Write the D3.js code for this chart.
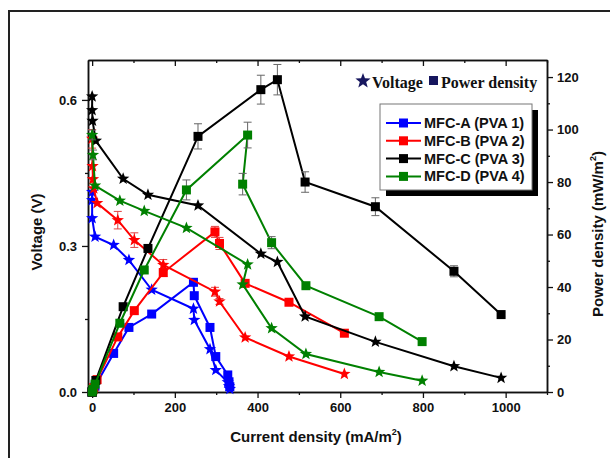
<!DOCTYPE html>
<html>
<head>
<meta charset="utf-8">
<script src="https://cdn.jsdelivr.net/npm/d3@7/dist/d3.min.js"></script>
<style>
  body { margin: 0; background: #fff; }
  svg text { font-family: Arial, "Liberation Sans", sans-serif; font-weight: bold; fill: #111; }
</style>
</head>
<body>
<div id="chart"></div>
<script>
// series names / colours
var names = ["MFC-A (PVA 1)", "MFC-B (PVA 2)", "MFC-C (PVA 3)", "MFC-D (PVA 4)"];
var colors = ["#0000ff", "#ff0000", "#000000", "#008000"];

// current density (mA/m2), voltage (V), power density (mW/m2)
var currentA = [0, 0, 0, 7, 52, 89, 144, 245, 247, 285, 299, 328, 331, 333];
var voltageA = [0.411, 0.394, 0.357, 0.319, 0.302, 0.271, 0.210, 0.171, 0.148, 0.088, 0.045, 0.020, 0.012, 0.006];
var powerA   = [0, 0, 0, 2.2, 14.7, 24.6, 29.7, 41.8, 36.7, 24.6, 13.5, 6.5, 3.9, 2.0];

var currentB = [0, 1, 2, 4, 12, 62, 102, 172, 297, 308, 370, 476, 610];
var voltageB = [0.52, 0.464, 0.437, 0.418, 0.388, 0.353, 0.312, 0.261, 0.206, 0.186, 0.112, 0.073, 0.037];
var powerB   = [0, 0.5, 0.9, 1.7, 4.7, 21, 31, 45.5, 61, 56.6, 41.4, 34.2, 22.4];
var vErrB    = [0.019, 0, 0, 0, 0, 0.018, 0.015, 0.011, 0.009, 0.006, 0, 0, 0];
var pErrB    = [0, 0, 0, 0, 0, 0, 0, 1.5, 2.1, 2.3, 0, 0, 0];

var currentC = [0, 0, 1, 9, 75, 135, 256, 408, 448, 515, 685, 875, 989];
var voltageC = [0.607, 0.579, 0.557, 0.516, 0.438, 0.405, 0.383, 0.284, 0.267, 0.155, 0.103, 0.053, 0.029];
var powerC   = [0, 0, 0.6, 4.4, 32.5, 54.7, 97.4, 115.2, 119, 80, 70.6, 46, 29.5];
var pErrC    = [0, 0, 0, 0, 0, 1.5, 4.8, 5.5, 5.8, 3.9, 3.4, 2.1, 0.8];

var currentD = [0, 2, 7, 67, 126, 228, 376, 364, 434, 517, 694, 798];
var voltageD = [0.528, 0.487, 0.424, 0.393, 0.372, 0.337, 0.262, 0.221, 0.131, 0.078, 0.041, 0.023];
var powerD   = [0, 1, 3, 26.2, 46.5, 77, 97.9, 79.2, 56.9, 40.5, 28.7, 19.2];
var vErrD    = [0.01, 0.01, 0, 0, 0, 0, 0, 0, 0, 0, 0, 0];
var pErrD    = [0, 0, 0, 0, 0, 3.8, 4.9, 4.1, 2.3, 1, 0, 0];

var xTicks = [0, 200, 400, 600, 800, 1000];
var xMinor = [100, 300, 500, 700, 900, 1100];
var vTicks = [0, 0.3, 0.6];
var vMinor = [0.15, 0.45];
var pTicks = [0, 20, 40, 60, 80, 100, 120];
var pMinor = [10, 30, 50, 70, 90, 110];

function zeros(n) { return d3.range(n).map(function() { return 0; }); }

var data = [
  {I: currentA, V: voltageA, P: powerA, vErr: zeros(currentA.length), pErr: zeros(currentA.length)},
  {I: currentB, V: voltageB, P: powerB, vErr: vErrB, pErr: pErrB},
  {I: currentC, V: voltageC, P: powerC, vErr: zeros(currentC.length), pErr: pErrC},
  {I: currentD, V: voltageD, P: powerD, vErr: vErrD, pErr: pErrD}
];

var width = 610, height = 458;
var plotLeft = 88, plotRight = 547, plotTop = 60, plotBottom = 392;

var x = d3.scaleLinear().domain([-10, 1100]).range([plotLeft, plotRight]);
var yV = d3.scaleLinear().domain([0, 0.682]).range([plotBottom, plotTop]);
var yP = d3.scaleLinear().domain([0, 126.5]).range([plotBottom, plotTop]);

var svg = d3.select("#chart").append("svg").attr("width", width).attr("height", height);

// outer frame (runs off the right and bottom edges)
svg.append("rect")
  .attr("x", 9).attr("y", 11).attr("width", 620).attr("height", 470)
  .attr("fill", "none").attr("stroke", "#222").attr("stroke-width", 2);

function starPath(r) {
  var pts = [];
  for (var i = 0; i < 10; i++) {
    var a = Math.PI / 5 * i - Math.PI / 2;
    var rr = i % 2 ? r * 0.42 : r;
    pts.push([rr * Math.cos(a), rr * Math.sin(a)]);
  }
  return "M" + pts.join("L") + "Z";
}

// axes
function styleAxis(g, labelSize) {
  g.selectAll("path.domain").attr("stroke", "#111").attr("stroke-width", 1.5);
  g.selectAll(".tick line").attr("stroke", "#111").attr("stroke-width", 1.3);
  g.selectAll("text").attr("font-size", labelSize).attr("fill", "#111");
}

svg.append("g").attr("transform", "translate(0," + plotBottom + ")")
  .call(d3.axisBottom(x).tickValues(xTicks).tickSize(6).tickSizeOuter(0).tickPadding(5).tickFormat(d3.format("d")))
  .call(styleAxis, 13);
svg.append("g").attr("transform", "translate(0," + plotBottom + ")")
  .call(d3.axisBottom(x).tickValues(xMinor).tickSize(3).tickSizeOuter(0).tickFormat(""))
  .call(styleAxis, 13);
svg.append("g").attr("transform", "translate(0," + plotTop + ")")
  .call(d3.axisTop(x).tickValues(xTicks).tickSize(-6).tickSizeOuter(0).tickFormat(""))
  .call(styleAxis, 13);
svg.append("g").attr("transform", "translate(0," + plotTop + ")")
  .call(d3.axisTop(x).tickValues(xMinor).tickSize(-3).tickSizeOuter(0).tickFormat(""))
  .call(styleAxis, 13);

svg.append("g").attr("transform", "translate(" + plotLeft + ",0)")
  .call(d3.axisLeft(yV).tickValues(vTicks).tickSize(6).tickSizeOuter(0).tickPadding(5).tickFormat(d3.format(".1f")))
  .call(styleAxis, 13);
svg.append("g").attr("transform", "translate(" + plotLeft + ",0)")
  .call(d3.axisLeft(yV).tickValues(vMinor).tickSize(3).tickSizeOuter(0).tickFormat(""))
  .call(styleAxis, 13);

svg.append("g").attr("transform", "translate(" + plotRight + ",0)")
  .call(d3.axisRight(yP).tickValues(pTicks).tickSize(6).tickSizeOuter(0).tickPadding(4).tickFormat(d3.format("d")))
  .call(styleAxis, 13);
svg.append("g").attr("transform", "translate(" + plotRight + ",0)")
  .call(d3.axisRight(yP).tickValues(pMinor).tickSize(3).tickSizeOuter(0).tickFormat(""))
  .call(styleAxis, 13);

// axis titles
var xt = svg.append("text").attr("x", 316).attr("y", 442).attr("text-anchor", "middle").attr("font-size", 15)
  .text("Current density (mA/m");
xt.append("tspan").attr("font-size", 9).attr("dy", -7).text("2");
xt.append("tspan").attr("dy", 7).text(")");

svg.append("text").attr("transform", "translate(42,232) rotate(-90)").attr("text-anchor", "middle")
  .attr("font-size", 15).text("Voltage (V)");

var yt = svg.append("text").attr("transform", "translate(603,234) rotate(-90)").attr("text-anchor", "middle")
  .attr("font-size", 15).text("Power density (mW/m");
yt.append("tspan").attr("font-size", 9).attr("dy", -7).text("2");
yt.append("tspan").attr("dy", 7).text(")");

// series
var lineV = d3.line().x(function(d) { return x(d.I); }).y(function(d) { return yV(d.V); });
var lineP = d3.line().x(function(d) { return x(d.I); }).y(function(d) { return yP(d.P); });

data.forEach(function(s, k) {
  var pts = s.I.map(function(I, i) {
    return {I: I, V: s.V[i], P: s.P[i], vErr: s.vErr[i], pErr: s.pErr[i]};
  });
  var g = svg.append("g").attr("class", "series");

  g.append("path").datum(pts).attr("d", lineP)
    .attr("fill", "none").attr("stroke", colors[k]).attr("stroke-width", 2);
  g.append("path").datum(pts).attr("d", lineV)
    .attr("fill", "none").attr("stroke", colors[k]).attr("stroke-width", 2);

  // error bars
  var eb = pts.filter(function(d) { return d.pErr > 0; }).map(function(d) {
    return {cx: x(d.I), y1: yP(d.P - d.pErr), y2: yP(d.P + d.pErr)};
  }).concat(pts.filter(function(d) { return d.vErr > 0; }).map(function(d) {
    return {cx: x(d.I), y1: yV(d.V - d.vErr), y2: yV(d.V + d.vErr)};
  }));
  var e = g.selectAll(".err").data(eb).enter().append("g").attr("class", "err")
    .attr("stroke", k === 1 ? "#e04040" : "#666").attr("stroke-width", 1);
  e.append("line").attr("x1", function(d) { return d.cx; }).attr("x2", function(d) { return d.cx; })
    .attr("y1", function(d) { return d.y1; }).attr("y2", function(d) { return d.y2; });
  e.append("line").attr("x1", function(d) { return d.cx - 4; }).attr("x2", function(d) { return d.cx + 4; })
    .attr("y1", function(d) { return d.y1; }).attr("y2", function(d) { return d.y1; });
  e.append("line").attr("x1", function(d) { return d.cx - 4; }).attr("x2", function(d) { return d.cx + 4; })
    .attr("y1", function(d) { return d.y2; }).attr("y2", function(d) { return d.y2; });

  g.selectAll(".sq").data(pts).enter().append("rect").attr("class", "sq")
    .attr("x", function(d) { return x(d.I) - 4.5; })
    .attr("y", function(d) { return yP(d.P) - 4.5; })
    .attr("width", 9).attr("height", 9)
    .attr("fill", colors[k]);

  g.selectAll(".star").data(pts).enter().append("path").attr("class", "star")
    .attr("d", starPath(6.5))
    .attr("transform", function(d) { return "translate(" + x(d.I) + "," + yV(d.V) + ")"; })
    .attr("fill", colors[k]);
});

// symbol key
var navy = "#16165e";
var serif = "'Liberation Serif', 'Times New Roman', serif";
svg.append("path").attr("d", starPath(8)).attr("transform", "translate(363,81)").attr("fill", navy);
svg.append("text").attr("x", 372).attr("y", 88)
  .style("font-family", serif).attr("font-size", 16).text("Voltage");
svg.append("rect").attr("x", 429).attr("y", 76).attr("width", 9).attr("height", 9).attr("fill", navy);
svg.append("text").attr("x", 441).attr("y", 88)
  .style("font-family", serif).attr("font-size", 16).text("Power density");

// legend box with shadow
var lg = svg.append("g").attr("transform", "translate(380,104)");
lg.append("rect").attr("x", 6).attr("y", 6).attr("width", 152).attr("height", 86).attr("fill", "#000");
lg.append("rect").attr("x", 0).attr("y", 0).attr("width", 152).attr("height", 86)
  .attr("fill", "#fff").attr("stroke", "#777").attr("stroke-width", 1);

var row = lg.selectAll(".row").data(names).enter().append("g").attr("class", "row")
  .attr("transform", function(d, i) { return "translate(0," + (19 + i * 17.8) + ")"; });
row.append("line").attr("x1", 6).attr("x2", 41).attr("y1", 0).attr("y2", 0)
  .attr("stroke", function(d, i) { return colors[i]; }).attr("stroke-width", 2);
row.append("rect").attr("x", 19).attr("y", -4.5).attr("width", 9).attr("height", 9)
  .attr("fill", function(d, i) { return colors[i]; });
row.append("text").attr("x", 44).attr("y", 5).attr("font-size", 14.5).text(function(d) { return d; });
</script>
</body>
</html>
